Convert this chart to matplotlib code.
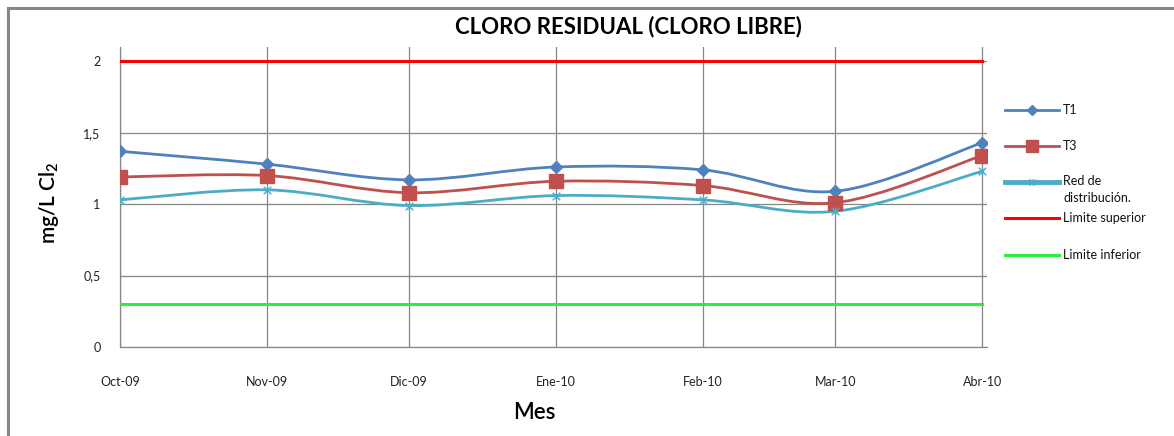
import numpy as np
import matplotlib
matplotlib.use('Agg')
import matplotlib.pyplot as plt
import matplotlib.dates as mdates
from matplotlib.path import Path
from matplotlib.patches import PathPatch, Rectangle
from matplotlib.lines import Line2D
from matplotlib.ticker import FuncFormatter

plt.rcParams['font.family'] = ['Lato', 'DejaVu Sans']
plt.rcParams['mathtext.default'] = 'regular'

months = ['2009-10-01', '2009-11-01', '2009-12-01', '2010-01-01',
          '2010-02-01', '2010-03-01', '2010-04-01']
month_labels = ['Oct-09', 'Nov-09', 'Dic-09', 'Ene-10', 'Feb-10', 'Mar-10', 'Abr-10']
t1 = [1.37, 1.28, 1.17, 1.26, 1.24, 1.09, 1.43]
t3 = [1.19, 1.20, 1.08, 1.16, 1.13, 1.01, 1.34]
red_dist = [1.03, 1.10, 0.99, 1.06, 1.03, 0.95, 1.23]
lim_sup = [2, 2, 2, 2, 2, 2, 2]
lim_inf = [0.3, 0.3, 0.3, 0.3, 0.3, 0.3, 0.3]
y_ticks = [0, 0.5, 1, 1.5, 2]

C_T1 = '#4F81BD'
C_T3 = '#C0504D'
C_RED = '#4BACC6'
C_SUP = '#FF0000'
C_INF = '#26F03A'
GRID = '#868686'

W, H = 1174, 436

star = Path([(0, -1), (0, 1), (-1, -1), (1, 1), (-1, 1), (1, -1)],
            [Path.MOVETO, Path.LINETO] * 3)


def smooth_path(x, y):
    # excel style smoothed line (bezier through the points)
    pts = np.column_stack([x, y])
    ext = np.vstack([pts[0], pts, pts[-1]])
    verts = [pts[0]]
    codes = [Path.MOVETO]
    for i in range(len(pts) - 1):
        p0, p1, p2, p3 = ext[i], ext[i + 1], ext[i + 2], ext[i + 3]
        verts += [p1 + (p2 - p0) / 6, p2 - (p3 - p1) / 6, p2]
        codes += [Path.CURVE4] * 3
    return Path(verts, codes)


x = mdates.datestr2num(months)

fig = plt.figure(figsize=(W / 100, H / 100), dpi=100)
ax = fig.add_axes([120 / W, 89 / H, 867 / W, 300 / H])

ax.plot(x, lim_sup, color=C_SUP, lw=2.2, zorder=3)
ax.plot(x, lim_inf, color=C_INF, lw=2.2, zorder=3)

series = [
    (t1, C_T1, 'D', 6, 'T1'),
    (t3, C_T3, 's', 10.5, 'T3'),
    (red_dist, C_RED, star, 5.5, 'Red de\ndistribución.'),
]
for vals, col, mk, ms, name in series:
    ax.add_patch(PathPatch(smooth_path(x, vals), facecolor='none', edgecolor=col,
                           lw=2.0, zorder=4))
    ax.plot(x, vals, linestyle='none', marker=mk, ms=ms, color=col,
            mec=col, mew=1.0, zorder=5)

ax.set_xlim(x[0], x[-1] + 1)
ax.set_ylim(0, 2.1)
ax.set_xticks(x, month_labels)
ax.set_yticks(y_ticks)
ax.yaxis.set_major_formatter(FuncFormatter(lambda v, p: f'{v:g}'.replace('.', ',')))
ax.tick_params(axis='x', length=0, pad=21, labelsize=9, labelcolor='#222222')
ax.tick_params(axis='y', length=0, pad=14, labelsize=9, labelcolor='#222222')
ax.grid(True, color=GRID, lw=0.9)
ax.set_axisbelow(True)
for s in ['top', 'right']:
    ax.spines[s].set_visible(False)
for s in ['left', 'bottom']:
    ax.spines[s].set_color(GRID)
    ax.spines[s].set_linewidth(0.9)

fig.text(628 / W, 1 - 27 / H, 'CLORO RESIDUAL (CLORO LIBRE)', ha='center', va='center',
         fontsize=16, fontweight='bold')
fig.text(49 / W, 1 - 203 / H, 'mg/L Cl$_2$', rotation=90, ha='center', va='center',
         fontsize=15, fontweight='semibold')
fig.text(534 / W, 1 - 412 / H, 'Mes', ha='center', va='center', fontsize=16,
         fontweight='semibold')

# legend drawn by hand to follow the uneven spacing of the original
legend_rows = [
    (C_T1, 'D', 5, 110, 'T1', 2.0),
    (C_T3, 's', 9, 146, 'T3', 2.0),
    (C_RED, star, 4.5, 182, 'Red de\ndistribución.', 3.5),
    (C_SUP, None, 0, 218, 'Limite superior', 2.2),
    (C_INF, None, 0, 255, 'Limite inferior', 2.2),
]
for col, mk, ms, yy, label, lw in legend_rows:
    fy = 1 - yy / H
    fig.add_artist(Line2D([1005 / W, 1032 / W, 1059 / W], [fy, fy, fy], color=col, lw=lw,
                          marker=mk, ms=ms, mec=col, mew=1.0, markevery=[1],
                          transform=fig.transFigure))
    if '\n' in label:
        fig.text(1063 / W, fy + 7 / H, label, ha='left', va='top', fontsize=9,
                 linespacing=1.45, color='#111111')
    else:
        fig.text(1063 / W, fy, label, ha='left', va='center', fontsize=9, color='#111111')

fig.add_artist(Rectangle((7.5 / W, -0.2), 1.5, 1.2 - 7.5 / H, transform=fig.transFigure,
                         fill=False, edgecolor='#878787', lw=2.2, clip_on=False))

fig.savefig('out.png', dpi=100)
